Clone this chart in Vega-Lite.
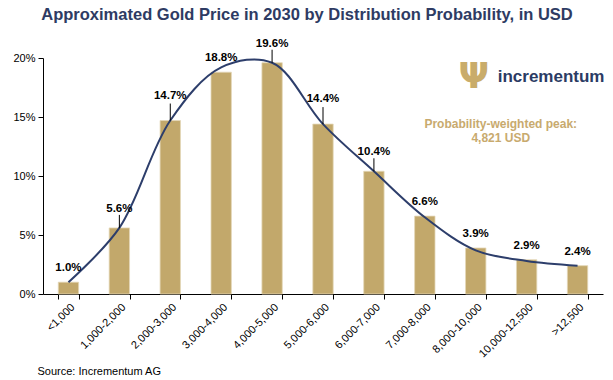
{
  "$schema": "https://vega.github.io/schema/vega-lite/v6.json",
  "width": 560,
  "height": 236,
  "autosize": {"type": "none"},
  "padding": {"left": 43, "top": 58, "right": 10, "bottom": 86},
  "background": "white",
  "config": {
    "view": {"stroke": null},
    "font": "Liberation Sans",
    "axis": {"labelFont": "Liberation Sans", "titleFont": "Liberation Sans"}
  },
  "title": {
    "text": "Approximated Gold Price in 2030 by Distribution Probability, in USD",
    "fontSize": 16.5,
    "fontWeight": "bold",
    "color": "#2E3B63",
    "anchor": "middle",
    "frame": "group",
    "dx": -16,
    "offset": 14
  },
  "data": {
    "values": [
      {"range": "<1,000", "p": 0.010, "c": 0.010},
      {"range": "1,000-2,000", "p": 0.056, "c": 0.056},
      {"range": "2,000-3,000", "p": 0.147, "c": 0.147},
      {"range": "3,000-4,000", "p": 0.188, "c": 0.192},
      {"range": "4,000-5,000", "p": 0.196, "c": 0.196},
      {"range": "5,000-6,000", "p": 0.144, "c": 0.144},
      {"range": "6,000-7,000", "p": 0.104, "c": 0.104},
      {"range": "7,000-8,000", "p": 0.066, "c": 0.065},
      {"range": "8,000-10,000", "p": 0.039, "c": 0.037},
      {"range": "10,000-12,500", "p": 0.029, "c": 0.028},
      {"range": ">12,500", "p": 0.024, "c": 0.024}
    ]
  },
  "encoding": {
    "x": {
      "field": "range",
      "type": "nominal",
      "sort": null,
      "scale": {"paddingInner": 0.6, "paddingOuter": 0.3},
      "axis": {
        "title": "Source: Incrementum AG",
        "titleAnchor": "start",
        "titleX": -6,
        "titleY": 80,
        "titleFontSize": 11,
        "titleFontWeight": "normal",
        "titleColor": "#000",
        "titleBaseline": "alphabetic",
        "labelAngle": -45,
        "labelFontSize": 11,
        "labelColor": "#000",
        "tickBand": "extent",
        "tickSize": 5,
        "tickColor": "#000",
        "domainColor": "#000",
        "labelPadding": 2
      }
    }
  },
  "layer": [
    {
      "mark": {"type": "bar", "color": "#C2A86B", "stroke": "#E3D7B8", "strokeWidth": 0.8},
      "encoding": {
        "y": {
          "field": "p",
          "type": "quantitative",
          "scale": {"domain": [0, 0.2], "nice": false},
          "axis": {
            "title": null,
            "values": [0, 0.05, 0.1, 0.15, 0.2],
            "format": ".0%",
            "grid": false,
            "labelFontSize": 11,
            "labelColor": "#000",
            "tickColor": "#000",
            "domainColor": "#000",
            "tickSize": 5,
            "labelPadding": 3
          }
        }
      }
    },
    {
      "mark": {"type": "line", "interpolate": "catmull-rom", "stroke": "#2D3E6B", "strokeWidth": 2},
      "encoding": {"y": {"field": "c", "type": "quantitative"}}
    },
    {
      "transform": [{"filter": {"not": {"field": "range", "oneOf": ["1,000-2,000", "2,000-3,000", "4,000-5,000", "5,000-6,000", "6,000-7,000"]}}}],
      "mark": {"type": "text", "fontSize": 11.5, "fontWeight": "bold", "color": "#000", "baseline": "alphabetic", "dy": -11},
      "encoding": {
        "y": {"field": "p", "type": "quantitative"},
        "text": {"field": "p", "type": "quantitative", "format": ".1%"}
      }
    },
    {
      "transform": [{"filter": {"field": "range", "oneOf": ["1,000-2,000", "4,000-5,000", "6,000-7,000"]}}],
      "mark": {"type": "text", "fontSize": 11.5, "fontWeight": "bold", "color": "#000", "baseline": "alphabetic", "dy": -16},
      "encoding": {
        "y": {"field": "p", "type": "quantitative"},
        "text": {"field": "p", "type": "quantitative", "format": ".1%"}
      }
    },
    {
      "transform": [{"filter": {"field": "range", "oneOf": ["1,000-2,000", "4,000-5,000", "6,000-7,000"]}}],
      "mark": {"type": "rule", "color": "#000", "strokeWidth": 1, "y2Offset": -13},
      "encoding": {
        "y": {"field": "p", "type": "quantitative"},
        "y2": {"field": "p"}
      }
    },
    {
      "transform": [{"filter": {"field": "range", "oneOf": ["2,000-3,000", "5,000-6,000"]}}],
      "mark": {"type": "text", "fontSize": 11.5, "fontWeight": "bold", "color": "#000", "baseline": "alphabetic", "dy": -22},
      "encoding": {
        "y": {"field": "p", "type": "quantitative"},
        "text": {"field": "p", "type": "quantitative", "format": ".1%"}
      }
    },
    {
      "transform": [{"filter": {"field": "range", "oneOf": ["2,000-3,000", "5,000-6,000"]}}],
      "mark": {"type": "rule", "color": "#000", "strokeWidth": 1, "y2Offset": -17},
      "encoding": {
        "y": {"field": "p", "type": "quantitative"},
        "y2": {"field": "p"}
      }
    },
    {
      "data": {"values": [{"t": "Ψ"}]},
      "mark": {"type": "text", "fontSize": 36, "fontWeight": "bold", "font": "DejaVu Sans", "color": "#C9AC6A", "align": "center", "baseline": "middle", "dx": -2},
      "encoding": {
        "x": {"datum": "8,000-10,000"},
        "y": {"datum": 0.184},
        "text": {"field": "t"}
      }
    },
    {
      "data": {"values": [{"t": "incrementum"}]},
      "mark": {"type": "text", "fontSize": 17, "fontWeight": "bold", "color": "#2B3B64", "align": "left", "baseline": "middle", "dx": 22},
      "encoding": {
        "x": {"datum": "8,000-10,000"},
        "y": {"datum": 0.184},
        "text": {"field": "t"}
      }
    },
    {
      "data": {"values": [{"t": ["Probability-weighted peak:", "4,821 USD"]}]},
      "mark": {"type": "text", "fontSize": 12, "fontWeight": "bold", "color": "#C8AA6E", "align": "center", "baseline": "middle", "dx": 25, "lineHeight": 14},
      "encoding": {
        "x": {"datum": "8,000-10,000"},
        "y": {"datum": 0.144},
        "text": {"field": "t"}
      }
    }
  ]
}
